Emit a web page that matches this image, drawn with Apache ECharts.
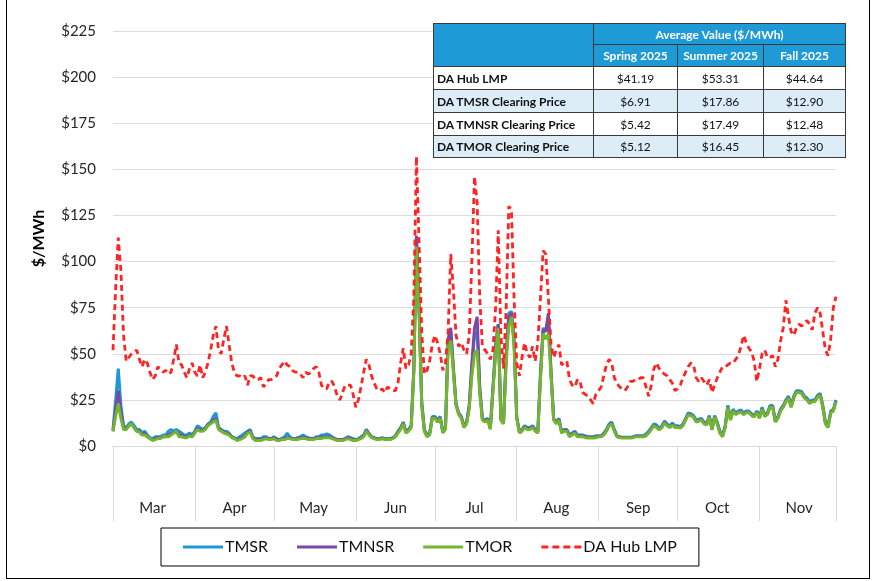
<!DOCTYPE html>
<html><head><meta charset="utf-8">
<script src="https://cdn.jsdelivr.net/npm/echarts@6/dist/echarts.min.js"></script>
<style>
html,body{margin:0;padding:0;background:#fff;}
#wrap{position:relative;width:873px;height:581px;overflow:hidden;background:#fff;}
#chart{position:absolute;left:0;top:0;width:873px;height:581px;}
#frame{position:absolute;left:6px;top:-1px;width:864px;height:580px;border:1px solid #000;box-sizing:border-box;pointer-events:none;}
#tbl{position:absolute;left:433px;top:23px;border-collapse:collapse;font-family:Lato,"Open Sans",sans-serif;font-size:12px;color:#111;table-layout:fixed;}
#tbl td{border:1px solid #3a3a3a;padding:0;white-space:nowrap;overflow:hidden;}
#tbl .h{background:#1e9ad6;color:#fff;font-weight:bold;text-align:center;}
#tbl .lab{font-weight:bold;text-align:left;padding-left:3px;}
#tbl .v{text-align:center;}
#tbl tr.alt td{background:#dcedf8;}
#tbl tr.wh td{background:#fff;}
</style>
</head><body>
<div id="wrap">
<div id="chart"></div>
<table id="tbl">
<colgroup><col style="width:160px"><col style="width:84px"><col style="width:86px"><col style="width:82px"></colgroup>
<tr style="height:21px"><td class="h" rowspan="2"></td><td class="h" colspan="3">Average Value ($/MWh)</td></tr>
<tr style="height:22px"><td class="h">Spring 2025</td><td class="h">Summer 2025</td><td class="h">Fall 2025</td></tr>
<tr class="wh" style="height:23px"><td class="lab">DA Hub LMP</td><td class="v">$41.19</td><td class="v">$53.31</td><td class="v">$44.64</td></tr>
<tr class="alt" style="height:23px"><td class="lab">DA TMSR Clearing Price</td><td class="v">$6.91</td><td class="v">$17.86</td><td class="v">$12.90</td></tr>
<tr class="wh" style="height:23px"><td class="lab">DA TMNSR Clearing Price</td><td class="v">$5.42</td><td class="v">$17.49</td><td class="v">$12.48</td></tr>
<tr class="alt" style="height:22px"><td class="lab">DA TMOR Clearing Price</td><td class="v">$5.12</td><td class="v">$16.45</td><td class="v">$12.30</td></tr>
</table>
<div id="frame"></div>
</div>
<script>
// ---- data ----
const months = ['Mar','Apr','May','Jun','Jul','Aug','Sep','Oct','Nov'];
const monthDays = [31,30,31,30,31,31,30,31,30];
const seriesNames = ['TMSR','TMNSR','TMOR','DA Hub LMP'];

const tmsr = [
 9,25,42,22,11,10,12,13,11,9,9,7,8,6,4.5,4,5,5,5,6,6,8,9,8,9,8,7,6,6,7,6,
 8,11,10,9,10,12,13,16,18,10,9,8,8,7,5,4.5,4,5,6,7,8,9,5,4,4,4,5,5,4,4,
 5,4,3.5,4,5,7,5,4,4,4.5,5,6,5,4.5,4,4,5,5,6,6,6.5,6,5,4,3.5,3.5,3.5,4,5,4.5,4,
 3.5,4,5,6,9,7,5,4.5,4,4,4.5,4,4,4,4.5,5.5,8,10,13,8,9,11,42,113,76,24,9,6,7,16,
 16,14,16,8,10,56,62,42,23,18,16,11,13,22,42,60,62,30,15,14,15,10,32,55,66,15,13,50,72,73,58,
 16,8,9,11,10,10,11,9,8,40,64,62,70,40,15,13,15,8,9,9,6,7,8,6,6,6,5.5,5,5,5,5.5,
 5.5,5.5,7,9,12,13,9,5.5,5,4.8,4.8,4.8,4.8,5,5.5,5.5,5.5,5.5,6.5,8,10,12,11.4,9.5,11,13.5,12,11,12.5,11,
 11,10.5,12,15,18,17.5,16.5,14,14.5,15,13,12.5,16.5,9.5,16.5,13,8,6,11,22,15,20,18,19,19.5,18,19,19,17.5,16.5,19,
 16,21,17,18,22,22,14,16,20,22,25,27,22,27,30,30,29.5,27,26,24,25,25,27.5,28.5,22,13,11,19,20,25
];
const tmnsr = [
 8,20,30,18,10,9,11,12,10,8,8,6,7,5,4,3.5,4,4.5,4.5,5,5,6,7,7,8,6,6,5,5,6,5,
 7.5,9.5,8.5,8.5,9.5,11.5,12.5,14,15,9.5,8.5,7.5,7,6.5,5,4,3.5,4,4.5,5.5,7.5,8,4.5,3.5,3.5,3.5,4,4.5,4,4,
 4.5,3.5,3.5,4,4,4.5,4.5,4,4,4,4.5,4.5,4.5,4,4,4,4.5,4.5,4.5,5,5,5,4.5,4,3.5,3.5,3.5,4,4.5,4,3.5,
 3.2,3.7,4.3,5.5,8.5,6.5,4.8,4.2,3.7,3.7,4.2,3.7,3.7,3.7,4.2,5.2,7.5,9.5,12.5,7.5,8.5,10.5,41,114,75,23,8.5,5.5,6.5,15.5,
 15.5,13.5,15.5,7.5,9.5,58,64,42,22.5,17.5,15.5,10.5,12.5,22,45,64,70,32,14.5,13.5,14.5,9.5,31,52,66,14.5,12.5,48,70,72,56,
 15.5,7.5,8.5,10.5,9.5,9.5,10.5,8.5,7.5,38,63,62,72,40,14.5,12.5,14.5,7.5,8.5,8.5,5.5,6.5,7.5,5.5,5.5,5.5,5,4.8,4.8,4.8,5,
 5.3,5.3,6.3,8.3,11.3,12.3,8.3,5.3,4.8,4.6,4.6,4.6,4.6,4.8,5.3,5.3,5.3,5.3,5.8,7.3,9.3,11.3,10.3,9,10.3,12.8,11.3,10.3,11.7,10.3,
 10.3,10,11.3,14.3,17.3,16.8,16,13.3,13.8,14.3,12.3,11.7,16,9,16,12.3,7.3,5.3,10.3,21.3,14.3,19.3,17.3,18.3,18.7,17.3,18.3,18.3,16.8,16,18.3,
 15.3,20.3,16.3,17.3,21.3,21.3,13.3,15.3,19.3,21.3,24.3,26.3,21.3,26.3,29.3,29.3,28.8,26.3,25.3,23.3,24.3,24.3,26.8,27.8,21.3,12.3,10.3,18.3,19.3,24.3
];
const tmor = [
 8,16,23,15,9,9,11,12,10,8,7.5,6,6,5,4,3,3.5,4,4,5,5,5,6,7,8,5,5,4.5,4.5,5.5,5,
 7,9,8,8,9,11,12,13,14,9,8,7,6.5,6,4.5,4,3,3.5,4,5,7,7.5,4,3,3,3,3.5,4,3.5,3.5,
 4,3,3,3.5,3.5,4,4,3.5,3.5,3.5,4,4,4,3.5,3.5,3.5,4,4,4,4.5,4.5,4.5,4,3.5,3,3,3,3.5,4,3.5,3,
 3,3.5,4,5,8,6,4.5,4,3.5,3.5,4,3.5,3.5,3.5,4,5,7,9,12,7,8,10,40,108,72,22,8,5,6,15,
 15,13,15,7,9,54,57,40,22,17,15,10,12,20,38,50,52,28,14,13,14,9,30,50,64,14,12,45,65,70,55,
 15,7,8,10,9,9,10,8,7,36,61,58,61,38,14,12,14,7,8,8,5,6,7,5,5,5,4.5,4.3,4.3,4.3,4.5,
 5,5,6,8,11,12,8,5,4.5,4.3,4.3,4.3,4.3,4.5,5,5,5,5,5.5,7,9,11,10,8.7,10,12.5,11,10,11.4,10,
 10,9.7,11,14,17,16.5,15.7,13,13.5,14,12,11.4,15.7,8.7,15.7,12,7,5,10,21,14,19,17,18,18.4,17,18,18,16.5,15.7,18,
 15,20,16,17,21,21,13,15,19,21,24,26,21,26,29,29,28.5,26,25,23,24,24,26.5,27.5,21,12,10,18,19,24
];
const lmp = [
 52,85,113,95,60,46,48,50,51,52,47,43,47,45,40,36,38,43,41,40,41,39,40,47,55,45,44,40,37,42,45,
 40,38,44,37,40,45,52,60,65,52,50,58,65,55,45,40,38,38,37,38,33,38,38,36,36,37,32,34,36,36,
 37,38,42,44,46,44,43,41,40,40,39,37,40,39,40,42,43,40,33,31,31,35,35,32,27,25,29,33,33,33,28,
 21,25,32,40,47,44,38,34,31,30,31,29,32,31,30,30,34,45,53,42,44,50,80,157,110,62,39,41,46,55,
 60,56,50,41,45,62,104,85,60,54,56,52,50,60,100,146,132,80,54,52,50,47,52,75,117,60,42,75,130,128,80,
 45,38,48,56,50,48,54,46,56,80,106,104,80,55,48,52,55,44,45,46,36,33,32,36,35,29,28,27,25,23,28,
 30,32,38,44,47,45,37,34,32,31,30,32,35,35,36,36,37,37,32,27,33,42,45,42,40,39,38,36,34,30,
 31,33,37,40,43,45,44,37,35,37,35,33,36,29,33,37,40,43,43,44,45,45,47,49,54,60,56,53,51,46,35,
 42,50,52,48,48,49,43,47,57,64,79,70,62,60,64,66,65,67,68,66,63,72,75,72,62,52,49,58,75,81
];

// ---- categories (one per day) and month marks ----
const days = [];
const tickIdx = new Set();
const labelAt = new Map();
let k = 0;
months.forEach((m, mi) => {
  tickIdx.add(k);
  labelAt.set(k + Math.floor(monthDays[mi] / 2), m);
  for (let d = 1; d <= monthDays[mi]; d++) { days.push(m + ' ' + d); k++; }
});
tickIdx.add(days.length - 1);

const FONT = 'Lato, "Open Sans", sans-serif';
const colors = ['#1f97d6', '#7a48a8', '#72b62e', '#ff2424'];
const values = [tmsr, tmnsr, tmor, lmp];
const solidIcon = 'path://M0,0h40v3h-40z';
const dashIcon = 'path://M0,0h7v3h-7zM11,0h7v3h-7zM22,0h7v3h-7zM33,0h7v3h-7z';

const chart = echarts.init(document.getElementById('chart'), null, {renderer: 'canvas'});
chart.setOption({
  animation: false,
  textStyle: {fontFamily: FONT},
  grid: {left: 113, right: 37, top: 31, bottom: 135, containLabel: false},
  xAxis: {
    type: 'category', data: days, boundaryGap: false,
    axisLine: {lineStyle: {color: '#d9d9d9', width: 1}},
    axisTick: {show: true, length: 75, interval: (i) => tickIdx.has(i), lineStyle: {color: '#d9d9d9', width: 1}},
    axisLabel: {interval: (i) => labelAt.has(i), formatter: (v, i) => labelAt.get(i) || '', margin: 55,
      fontSize: 15, color: '#262626', fontFamily: FONT},
    splitLine: {show: false}
  },
  yAxis: {
    type: 'value', min: 0, max: 225, interval: 25,
    name: '$/MWh', nameLocation: 'middle', nameGap: 66, nameRotate: 90,
    nameTextStyle: {fontWeight: 'bold', fontSize: 16, color: '#000', fontFamily: FONT},
    axisLine: {show: false}, axisTick: {show: false},
    axisLabel: {formatter: (v) => '$' + v, margin: 17, fontSize: 15, color: '#262626', fontFamily: FONT},
    splitLine: {lineStyle: {color: '#dcdcdc', width: 1}}
  },
  legend: {
    left: 161, top: 528, itemWidth: 40, itemHeight: 3, itemGap: 29,
    padding: [11, 22, 11, 22], borderColor: '#000', borderWidth: 1,
    textStyle: {fontSize: 16, color: '#111', fontFamily: FONT, padding: [0, 0, 0, -3]},
    data: seriesNames.map((n, i) => ({name: n, icon: i === 3 ? dashIcon : solidIcon}))
  },
  series: seriesNames.map((n, i) => ({
    name: n, type: 'line', data: values[i], symbol: 'none', showSymbol: false,
    lineStyle: {color: colors[i], width: i === 3 ? 2.8 : 3, type: i === 3 ? [6, 4] : 'solid'},
    itemStyle: {color: colors[i]}, z: 2 + i
  }))
});
</script>
</body></html>
